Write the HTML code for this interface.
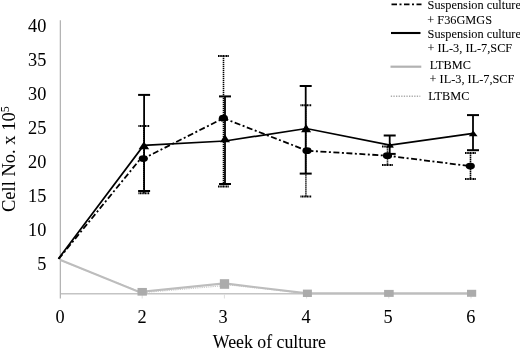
<!DOCTYPE html><html><head><meta charset="utf-8"><style>html,body{margin:0;padding:0;background:#fff;width:520px;height:349px;overflow:hidden}svg{display:block;will-change:transform}text{font-family:"Liberation Serif",serif;fill:#000;stroke:#000;stroke-width:0.05px}</style></head><body><svg width="520" height="349" viewBox="0 0 520 349"><line x1="60.35" y1="20.3" x2="60.35" y2="298.5" stroke="#b2b2b2" stroke-width="1.25"/><line x1="61" y1="293.7" x2="476" y2="293.7" stroke="#c4c4c4" stroke-width="1.4"/><line x1="142.2" y1="294" x2="142.2" y2="298.5" stroke="#dedede" stroke-width="1"/><line x1="224.4" y1="294" x2="224.4" y2="298.5" stroke="#dedede" stroke-width="1"/><line x1="306.6" y1="294" x2="306.6" y2="298.5" stroke="#dedede" stroke-width="1"/><line x1="388.8" y1="294" x2="388.8" y2="298.5" stroke="#dedede" stroke-width="1"/><line x1="471.0" y1="294" x2="471.0" y2="298.5" stroke="#dedede" stroke-width="1"/><text x="46.4" y="270.16" font-size="18.3" text-anchor="end">5</text><text x="46.4" y="236.07" font-size="18.3" text-anchor="end">10</text><text x="46.4" y="201.98" font-size="18.3" text-anchor="end">15</text><text x="46.4" y="167.89" font-size="18.3" text-anchor="end">20</text><text x="46.4" y="133.80" font-size="18.3" text-anchor="end">25</text><text x="46.4" y="99.71" font-size="18.3" text-anchor="end">30</text><text x="46.4" y="65.62" font-size="18.3" text-anchor="end">35</text><text x="46.4" y="31.53" font-size="18.3" text-anchor="end">40</text><text x="60" y="323.3" font-size="18.3" text-anchor="middle">0</text><text x="142" y="323.3" font-size="18.3" text-anchor="middle">2</text><text x="223" y="323.3" font-size="18.3" text-anchor="middle">3</text><text x="306" y="323.3" font-size="18.3" text-anchor="middle">4</text><text x="388.0" y="323.3" font-size="18.3" text-anchor="middle">5</text><text x="470.8" y="323.3" font-size="18.3" text-anchor="middle">6</text><text x="269.4" y="348.4" font-size="17.8" text-anchor="middle">Week of culture</text><text transform="translate(14.6,212) rotate(-90)" font-size="18.5">Cell No. x 10<tspan font-size="12" dy="-5.4">5</tspan></text><polyline points="60.5,260.5 142.2,292.6 224.5,285.6 226,284.6 307.2,293.5 389.0,293.5 471.6,293.5" fill="none" stroke="#c8c8c8" stroke-width="1.2" stroke-dasharray="1.2 1"/><polyline points="60.5,260.0 142.2,293.2 142.2,291.6 224.5,283.4 307.2,293.4 389.0,293.4 471.6,293.4" fill="none" stroke="#bdbdbd" stroke-width="2.1"/><rect x="137.50" y="287.95" width="9.4" height="7.7" fill="#ababab"/><rect x="219.85" y="279.20" width="9.3" height="9.6" fill="#ababab"/><rect x="302.90" y="289.60" width="9.0" height="7.4" fill="#ababab"/><rect x="384.10" y="289.90" width="9.6" height="7.0" fill="#ababab"/><rect x="467.00" y="289.80" width="9.2" height="7.0" fill="#ababab"/><line x1="144.1" y1="94.9" x2="144.1" y2="191.0" stroke="#000" stroke-width="1.8"/><line x1="138.1" y1="94.9" x2="150.1" y2="94.9" stroke="#000" stroke-width="2"/><line x1="138.1" y1="191.0" x2="150.1" y2="191.0" stroke="#000" stroke-width="2"/><line x1="225.0" y1="96.4" x2="225.0" y2="184.0" stroke="#000" stroke-width="1.8"/><line x1="219.0" y1="96.4" x2="231.0" y2="96.4" stroke="#000" stroke-width="2"/><line x1="219.0" y1="184.0" x2="231.0" y2="184.0" stroke="#000" stroke-width="2"/><line x1="305.7" y1="86.0" x2="305.7" y2="173.6" stroke="#000" stroke-width="1.8"/><line x1="299.7" y1="86.0" x2="311.7" y2="86.0" stroke="#000" stroke-width="2"/><line x1="299.7" y1="173.6" x2="311.7" y2="173.6" stroke="#000" stroke-width="2"/><line x1="389.7" y1="135.5" x2="389.7" y2="153.9" stroke="#000" stroke-width="1.8"/><line x1="383.7" y1="135.5" x2="395.7" y2="135.5" stroke="#000" stroke-width="2"/><line x1="383.7" y1="153.9" x2="395.7" y2="153.9" stroke="#000" stroke-width="2"/><line x1="473.0" y1="115.1" x2="473.0" y2="150.2" stroke="#000" stroke-width="1.8"/><line x1="467.0" y1="115.1" x2="479.0" y2="115.1" stroke="#000" stroke-width="2"/><line x1="467.0" y1="150.2" x2="479.0" y2="150.2" stroke="#000" stroke-width="2"/><line x1="143.9" y1="126.0" x2="143.9" y2="193.2" stroke="#000" stroke-width="1.6" stroke-dasharray="1.3 0.7"/><line x1="138.4" y1="126.0" x2="149.4" y2="126.0" stroke="#000" stroke-width="2" stroke-dasharray="1.2 0.4"/><line x1="138.4" y1="193.2" x2="149.4" y2="193.2" stroke="#000" stroke-width="2" stroke-dasharray="1.2 0.4"/><line x1="223.5" y1="56.0" x2="223.5" y2="186.4" stroke="#000" stroke-width="1.6" stroke-dasharray="1.3 0.7"/><line x1="218.0" y1="56.0" x2="229.0" y2="56.0" stroke="#000" stroke-width="2" stroke-dasharray="1.2 0.4"/><line x1="218.0" y1="186.4" x2="229.0" y2="186.4" stroke="#000" stroke-width="2" stroke-dasharray="1.2 0.4"/><line x1="305.9" y1="105.2" x2="305.9" y2="196.6" stroke="#000" stroke-width="1.6" stroke-dasharray="1.3 0.7"/><line x1="300.4" y1="105.2" x2="311.4" y2="105.2" stroke="#000" stroke-width="2" stroke-dasharray="1.2 0.4"/><line x1="300.4" y1="196.6" x2="311.4" y2="196.6" stroke="#000" stroke-width="2" stroke-dasharray="1.2 0.4"/><line x1="387.5" y1="146.5" x2="387.5" y2="165.0" stroke="#000" stroke-width="1.6" stroke-dasharray="1.3 0.7"/><line x1="382.0" y1="146.5" x2="393.0" y2="146.5" stroke="#000" stroke-width="2" stroke-dasharray="1.2 0.4"/><line x1="382.0" y1="165.0" x2="393.0" y2="165.0" stroke="#000" stroke-width="2" stroke-dasharray="1.2 0.4"/><line x1="470.5" y1="153.1" x2="470.5" y2="178.9" stroke="#000" stroke-width="1.6" stroke-dasharray="1.3 0.7"/><line x1="465.0" y1="153.1" x2="476.0" y2="153.1" stroke="#000" stroke-width="2" stroke-dasharray="1.2 0.4"/><line x1="465.0" y1="178.9" x2="476.0" y2="178.9" stroke="#000" stroke-width="2" stroke-dasharray="1.2 0.4"/><polyline points="58.4,258.8 143.6,145.4 225,141.0 306.3,128.5 390,145.2 473.2,133.3" fill="none" stroke="#000" stroke-width="1.7"/><polyline points="58.6,259.0 140.3,159.0 143.3,158.6 223.4,118.2 307,150.7 387.5,155.7 470.3,166.1" fill="none" stroke="#000" stroke-width="1.8" stroke-dasharray="6 2.5 2 2.5"/><polygon points="143.9,141.4 149.20,149.2 138.60,149.2" fill="#000"/><polygon points="225.0,134.4 230.00,142.2 220.00,142.2" fill="#000"/><polygon points="306.1,124.0 311.10,132.2 301.10,132.2" fill="#000"/><polygon points="390.0,142.6 394.00,147.4 386.00,147.4" fill="#000"/><polygon points="473.2,130.6 477.60,136.2 468.80,136.2" fill="#000"/><ellipse cx="143.3" cy="158.6" rx="4.6" ry="3.4" fill="#000"/><ellipse cx="223.4" cy="118.2" rx="4.6" ry="3.4" fill="#000"/><ellipse cx="307" cy="150.7" rx="4.6" ry="3.4" fill="#000"/><ellipse cx="387.5" cy="155.7" rx="4.6" ry="3.4" fill="#000"/><ellipse cx="470.3" cy="166.1" rx="4.6" ry="3.4" fill="#000"/><line x1="391.5" y1="4.4" x2="421.5" y2="4.4" stroke="#000" stroke-width="1.8" stroke-dasharray="5.5 2.5 2 2.5"/><line x1="391" y1="33" x2="420.5" y2="33" stroke="#000" stroke-width="2.1"/><line x1="390.5" y1="66.7" x2="421.3" y2="66.7" stroke="#b2b2b2" stroke-width="2.2"/><line x1="390.8" y1="96.3" x2="420.3" y2="96.3" stroke="#ababab" stroke-width="1.4" stroke-dasharray="1.3 1.3"/><text x="427.6" y="9.4" font-size="12.3">Suspension culture</text><text x="427.3" y="23.7" font-size="12.3">+ F36GMGS</text><text x="427.6" y="37.5" font-size="12.3">Suspension culture</text><text x="427.4" y="51.7" font-size="12.3">+ IL-3, IL-7,SCF</text><text x="429.7" y="68.9" font-size="12.3">LTBMC</text><text x="429.6" y="83.2" font-size="12.3">+ IL-3, IL-7,SCF</text><text x="428.2" y="99.9" font-size="12.3">LTBMC</text></svg></body></html>
